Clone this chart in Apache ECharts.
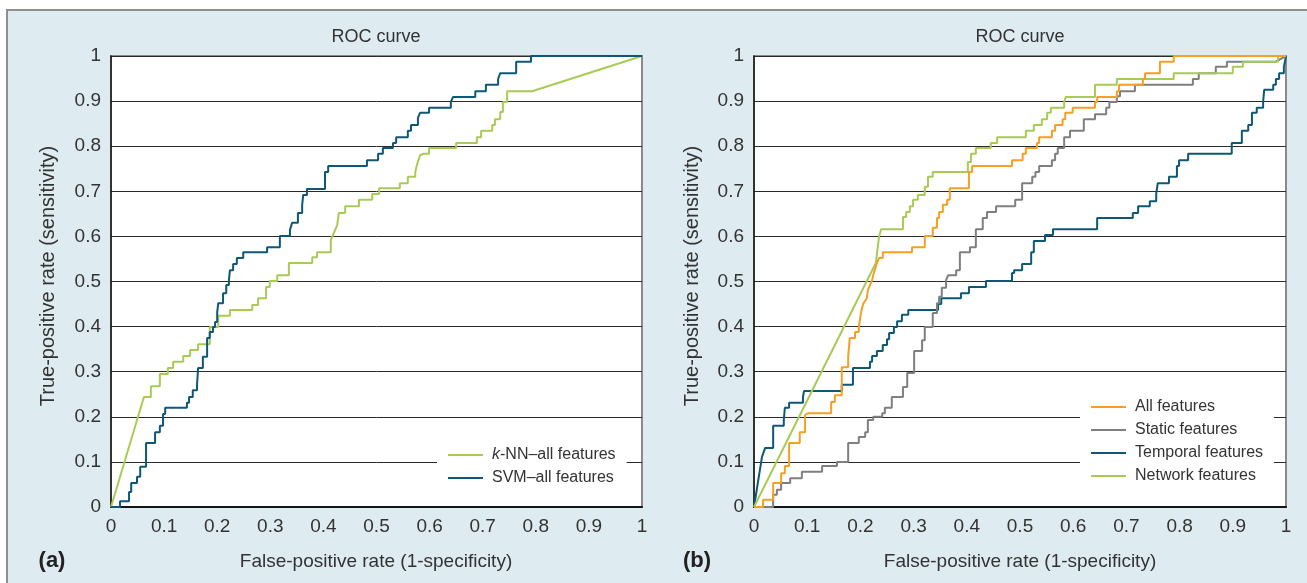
<!DOCTYPE html>
<html>
<head>
<meta charset="utf-8">
<script src="https://cdn.jsdelivr.net/npm/echarts@6/dist/echarts.min.js"></script>
<style>
  html, body { margin: 0; padding: 0; background: #fff; }
  #frame { position: absolute; left: 6px; top: 9px; right: 0; bottom: 0; background: #deebf1; border-top: 2px solid #8f8f8f; border-left: 2px solid #8f8f8f; }
  #chart { position: absolute; left: 0; top: 0; width: 1307px; height: 583px; }
</style>
</head>
<body>
<div id="frame"></div>
<div id="chart"></div>
<script>
// [false-positive rate, true-positive rate] pairs
const knnAll = [[0,0],[0.062,0.244],[0.075,0.244],[0.075,0.268],[0.092,0.268],[0.092,0.295],[0.107,0.295],[0.107,0.308],[0.117,0.308],[0.117,0.322],[0.136,0.322],[0.136,0.335],[0.149,0.335],[0.149,0.348],[0.164,0.348],[0.164,0.361],[0.186,0.361],[0.186,0.399],[0.202,0.399],[0.202,0.424],[0.224,0.424],[0.224,0.437],[0.266,0.437],[0.266,0.448],[0.277,0.448],[0.277,0.463],[0.292,0.463],[0.292,0.488],[0.299,0.488],[0.299,0.501],[0.313,0.501],[0.313,0.514],[0.335,0.514],[0.335,0.541],[0.379,0.541],[0.379,0.554],[0.388,0.554],[0.388,0.565],[0.414,0.565],[0.414,0.592],[0.426,0.625],[0.429,0.652],[0.441,0.652],[0.441,0.667],[0.467,0.667],[0.467,0.681],[0.492,0.681],[0.492,0.694],[0.505,0.694],[0.505,0.707],[0.544,0.707],[0.544,0.718],[0.559,0.718],[0.559,0.732],[0.573,0.732],[0.573,0.743],[0.576,0.758],[0.582,0.780],[0.588,0.783],[0.599,0.783],[0.599,0.796],[0.650,0.796],[0.650,0.807],[0.689,0.807],[0.689,0.820],[0.697,0.820],[0.697,0.834],[0.718,0.834],[0.718,0.847],[0.723,0.847],[0.723,0.860],[0.733,0.860],[0.733,0.876],[0.738,0.876],[0.738,0.898],[0.746,0.898],[0.746,0.922],[0.793,0.922],[1,1]]
const svmAll = [[0,0],[0.017,0],[0.017,0.013],[0.034,0.013],[0.034,0.033],[0.038,0.033],[0.038,0.053],[0.049,0.053],[0.049,0.067],[0.055,0.067],[0.055,0.089],[0.066,0.089],[0.066,0.142],[0.083,0.142],[0.083,0.166],[0.092,0.166],[0.092,0.180],[0.098,0.180],[0.098,0.206],[0.102,0.206],[0.102,0.220],[0.143,0.220],[0.143,0.231],[0.147,0.231],[0.147,0.244],[0.154,0.244],[0.154,0.259],[0.162,0.259],[0.162,0.271],[0.164,0.271],[0.164,0.308],[0.173,0.308],[0.173,0.333],[0.181,0.333],[0.181,0.375],[0.186,0.375],[0.186,0.388],[0.192,0.388],[0.192,0.399],[0.196,0.399],[0.196,0.410],[0.200,0.410],[0.200,0.432],[0.202,0.432],[0.202,0.452],[0.211,0.452],[0.211,0.474],[0.217,0.474],[0.217,0.492],[0.222,0.492],[0.222,0.503],[0.224,0.503],[0.224,0.525],[0.230,0.525],[0.230,0.539],[0.237,0.539],[0.237,0.552],[0.249,0.552],[0.249,0.565],[0.294,0.565],[0.294,0.576],[0.318,0.576],[0.318,0.601],[0.337,0.601],[0.337,0.614],[0.341,0.630],[0.352,0.630],[0.352,0.652],[0.360,0.652],[0.360,0.670],[0.362,0.692],[0.369,0.692],[0.369,0.705],[0.403,0.705],[0.403,0.743],[0.409,0.743],[0.409,0.756],[0.482,0.756],[0.482,0.769],[0.503,0.769],[0.503,0.783],[0.512,0.783],[0.512,0.796],[0.531,0.796],[0.531,0.807],[0.537,0.807],[0.537,0.820],[0.559,0.820],[0.559,0.834],[0.565,0.834],[0.565,0.847],[0.578,0.847],[0.578,0.863],[0.582,0.874],[0.599,0.874],[0.599,0.885],[0.640,0.885],[0.640,0.898],[0.644,0.909],[0.686,0.909],[0.686,0.922],[0.706,0.922],[0.706,0.936],[0.729,0.936],[0.729,0.949],[0.733,0.962],[0.763,0.962],[0.763,0.987],[0.791,0.987],[0.791,1],[1,1]]

const allFeat = [[0,0],[0.017,0],[0.017,0.016],[0.036,0.016],[0.036,0.053],[0.051,0.053],[0.051,0.075],[0.058,0.075],[0.058,0.091],[0.066,0.091],[0.066,0.142],[0.086,0.142],[0.086,0.166],[0.096,0.166],[0.096,0.204],[0.102,0.208],[0.145,0.208],[0.145,0.233],[0.152,0.233],[0.152,0.248],[0.165,0.248],[0.165,0.310],[0.177,0.310],[0.177,0.333],[0.180,0.333],[0.180,0.375],[0.190,0.375],[0.190,0.388],[0.197,0.388],[0.197,0.399],[0.201,0.430],[0.205,0.450],[0.212,0.463],[0.214,0.481],[0.222,0.503],[0.224,0.514],[0.231,0.541],[0.235,0.552],[0.242,0.552],[0.242,0.565],[0.297,0.565],[0.297,0.576],[0.321,0.576],[0.321,0.601],[0.336,0.601],[0.336,0.619],[0.344,0.619],[0.344,0.641],[0.348,0.641],[0.348,0.654],[0.355,0.654],[0.355,0.670],[0.363,0.670],[0.363,0.681],[0.368,0.681],[0.368,0.707],[0.404,0.707],[0.404,0.743],[0.410,0.743],[0.410,0.756],[0.485,0.756],[0.485,0.769],[0.505,0.769],[0.505,0.783],[0.511,0.783],[0.511,0.796],[0.532,0.796],[0.532,0.807],[0.536,0.807],[0.536,0.820],[0.560,0.820],[0.560,0.834],[0.566,0.834],[0.566,0.847],[0.580,0.847],[0.580,0.860],[0.585,0.860],[0.585,0.874],[0.599,0.874],[0.599,0.885],[0.641,0.885],[0.641,0.898],[0.645,0.898],[0.645,0.909],[0.682,0.909],[0.682,0.922],[0.686,0.922],[0.686,0.936],[0.731,0.936],[0.731,0.949],[0.735,0.949],[0.735,0.962],[0.763,0.962],[0.763,0.987],[0.789,0.987],[0.789,1],[1,1]]
const staticFeat = [[0,0],[0.036,0],[0.036,0.027],[0.043,0.027],[0.043,0.038],[0.051,0.038],[0.051,0.053],[0.068,0.053],[0.068,0.064],[0.090,0.064],[0.090,0.078],[0.128,0.078],[0.128,0.091],[0.156,0.091],[0.156,0.100],[0.177,0.100],[0.177,0.142],[0.197,0.142],[0.197,0.155],[0.209,0.155],[0.209,0.166],[0.214,0.166],[0.214,0.193],[0.224,0.193],[0.224,0.200],[0.241,0.200],[0.241,0.208],[0.246,0.208],[0.246,0.220],[0.259,0.220],[0.259,0.244],[0.280,0.244],[0.280,0.266],[0.288,0.266],[0.288,0.297],[0.301,0.297],[0.301,0.346],[0.316,0.346],[0.316,0.370],[0.321,0.370],[0.321,0.399],[0.336,0.399],[0.336,0.430],[0.344,0.430],[0.344,0.452],[0.348,0.452],[0.348,0.466],[0.353,0.466],[0.353,0.486],[0.361,0.486],[0.361,0.503],[0.365,0.514],[0.380,0.514],[0.380,0.525],[0.387,0.525],[0.387,0.565],[0.406,0.565],[0.406,0.576],[0.417,0.576],[0.417,0.616],[0.430,0.616],[0.430,0.641],[0.438,0.641],[0.438,0.654],[0.455,0.654],[0.455,0.667],[0.491,0.667],[0.491,0.681],[0.504,0.681],[0.504,0.718],[0.523,0.718],[0.523,0.732],[0.529,0.732],[0.529,0.743],[0.536,0.743],[0.536,0.756],[0.560,0.756],[0.560,0.769],[0.566,0.769],[0.566,0.783],[0.571,0.783],[0.571,0.796],[0.583,0.796],[0.583,0.820],[0.594,0.820],[0.594,0.834],[0.620,0.834],[0.620,0.860],[0.641,0.860],[0.641,0.871],[0.662,0.871],[0.662,0.885],[0.668,0.885],[0.668,0.898],[0.682,0.898],[0.682,0.911],[0.688,0.911],[0.688,0.922],[0.716,0.922],[0.716,0.936],[0.825,0.936],[0.825,0.949],[0.836,0.949],[0.836,0.962],[0.868,0.962],[0.868,0.976],[0.889,0.976],[0.889,0.987],[0.980,0.987],[1,1]]
const temporalFeat = [[0,0],[0.015,0.111],[0.021,0.131],[0.036,0.131],[0.036,0.180],[0.056,0.180],[0.056,0.193],[0.058,0.193],[0.058,0.220],[0.066,0.220],[0.066,0.231],[0.092,0.231],[0.092,0.244],[0.094,0.244],[0.094,0.257],[0.165,0.257],[0.165,0.271],[0.186,0.271],[0.186,0.308],[0.218,0.308],[0.218,0.322],[0.222,0.322],[0.222,0.335],[0.231,0.335],[0.231,0.346],[0.242,0.346],[0.242,0.359],[0.250,0.359],[0.250,0.372],[0.254,0.372],[0.254,0.386],[0.263,0.386],[0.263,0.399],[0.269,0.399],[0.269,0.412],[0.278,0.412],[0.278,0.426],[0.290,0.426],[0.290,0.437],[0.346,0.437],[0.346,0.450],[0.352,0.450],[0.352,0.463],[0.389,0.463],[0.389,0.474],[0.404,0.474],[0.404,0.488],[0.436,0.488],[0.436,0.501],[0.485,0.501],[0.485,0.519],[0.489,0.519],[0.489,0.525],[0.504,0.525],[0.504,0.539],[0.521,0.539],[0.521,0.565],[0.526,0.565],[0.526,0.590],[0.547,0.590],[0.547,0.603],[0.562,0.603],[0.562,0.616],[0.645,0.616],[0.645,0.641],[0.712,0.641],[0.712,0.652],[0.722,0.652],[0.722,0.667],[0.744,0.667],[0.744,0.678],[0.756,0.678],[0.756,0.694],[0.759,0.694],[0.759,0.718],[0.780,0.718],[0.780,0.732],[0.795,0.732],[0.795,0.756],[0.799,0.756],[0.799,0.769],[0.816,0.769],[0.816,0.783],[0.898,0.783],[0.898,0.807],[0.917,0.807],[0.917,0.834],[0.929,0.834],[0.929,0.847],[0.936,0.847],[0.936,0.874],[0.945,0.874],[0.945,0.885],[0.957,0.885],[0.957,0.898],[0.959,0.898],[0.959,0.925],[0.976,0.925],[0.976,0.936],[0.981,0.936],[0.981,0.949],[0.987,0.949],[0.987,0.962],[0.996,0.962],[0.996,0.976],[1,1]]
const networkFeat = [[0,0],[0.229,0.541],[0.235,0.599],[0.239,0.616],[0.280,0.616],[0.280,0.643],[0.286,0.643],[0.286,0.654],[0.293,0.654],[0.293,0.667],[0.299,0.667],[0.299,0.681],[0.308,0.681],[0.308,0.692],[0.321,0.692],[0.321,0.710],[0.327,0.710],[0.327,0.732],[0.336,0.732],[0.336,0.743],[0.402,0.743],[0.402,0.765],[0.408,0.765],[0.408,0.783],[0.417,0.783],[0.417,0.796],[0.445,0.796],[0.445,0.807],[0.457,0.807],[0.457,0.820],[0.511,0.820],[0.511,0.834],[0.526,0.834],[0.526,0.847],[0.541,0.847],[0.541,0.860],[0.551,0.860],[0.551,0.874],[0.558,0.874],[0.558,0.885],[0.583,0.885],[0.583,0.898],[0.586,0.898],[0.586,0.909],[0.641,0.909],[0.641,0.936],[0.682,0.936],[0.682,0.949],[0.789,0.949],[0.789,0.962],[0.900,0.962],[0.900,0.976],[0.919,0.976],[0.919,0.987],[0.985,0.987],[0.985,1],[1,1]]

const panelTitle = 'ROC curve'
const xName = 'False-positive rate (1-specificity)'
const yName = 'True-positive rate (sensitivity)'

const GREEN = '#a9cb55'
const TEAL = '#0d5877'
const ORANGE = '#f5a023'
const GREY = '#7f7f80'
const FONT = '"Liberation Sans", Arial, sans-serif'

const fmt = v => String(+v.toFixed(1))

const gridBase = { top: 56, height: 451, show: true, backgroundColor: '#fff', borderColor: '#8a8a8a', borderWidth: 2 }

const xAxisFor = i => ({
  type: 'value', gridIndex: i, min: 0, max: 1, interval: 0.1,
  axisLine: { show: true, onZero: false, lineStyle: { color: '#151515', width: 2 } },
  axisTick: { show: false },
  splitLine: { show: false },
  axisLabel: { formatter: fmt, margin: 10, color: '#333', fontFamily: FONT, fontSize: 19 }
})
const yAxisFor = i => ({
  type: 'value', gridIndex: i, min: 0, max: 1, interval: 0.1,
  axisLine: { show: true, onZero: false, lineStyle: { color: '#151515', width: 1.5 } },
  axisTick: { show: false },
  splitLine: { show: true, lineStyle: { color: '#2b2b2b', width: 1 } },
  axisLabel: { formatter: fmt, margin: 10, color: '#333', fontFamily: FONT, fontSize: 19 }
})

const line = (name, data, color, idx) => ({
  name, type: 'line', data, xAxisIndex: idx, yAxisIndex: idx,
  symbol: 'none', showSymbol: false, color,
  lineStyle: { color, width: 2 }, z: 3
})

const legendBase = {
  orient: 'vertical', icon: 'rect', itemWidth: 35, itemHeight: 2, itemGap: 5,
  backgroundColor: '#fff', padding: [3, 11, 3, 11],
  textStyle: { fontFamily: FONT, fontSize: 16, color: '#333', lineHeight: 18, padding: [0, 0, 0, 4],
    rich: { i: { fontStyle: 'italic', fontFamily: FONT, fontSize: 16, color: '#333', lineHeight: 18 } } }
}

const txt = (text, x, y, extra) => ({
  type: 'text', x, y, z: 10,
  style: Object.assign({ text, fill: '#333', font: '19px ' + FONT, textAlign: 'center', textVerticalAlign: 'middle' }, extra || {})
})

const chart = echarts.init(document.getElementById('chart'), null, { renderer: 'canvas' })
chart.setOption({
  animation: false,
  backgroundColor: 'transparent',
  grid: [
    Object.assign({ left: 111, width: 531 }, gridBase),
    Object.assign({ left: 754, width: 532 }, gridBase)
  ],
  xAxis: [xAxisFor(0), xAxisFor(1)],
  yAxis: [yAxisFor(0), yAxisFor(1)],
  legend: [
    Object.assign({ left: 437, top: 443, data: ['k-NN–all features', 'SVM–all features'],
      formatter: n => n === 'k-NN–all features' ? '{i|k}-NN–all features' : n }, legendBase),
    Object.assign({ left: 1080, top: 395, itemGap: 6, data: ['All features', 'Static features', 'Temporal features', 'Network features'] }, legendBase)
  ],
  graphic: [
    txt(panelTitle, 376, 37, { font: '18px ' + FONT }),
    txt(panelTitle, 1020, 37, { font: '18px ' + FONT }),
    txt(xName, 376, 562),
    txt(xName, 1020, 562),
    Object.assign(txt(yName, 48, 276, { font: '20px ' + FONT }), { rotation: Math.PI / 2 }),
    Object.assign(txt(yName, 692, 276, { font: '20px ' + FONT }), { rotation: Math.PI / 2 }),
    txt('(a)', 52, 561, { font: 'bold 22px ' + FONT, fill: '#222' }),
    txt('(b)', 697, 561, { font: 'bold 22px ' + FONT, fill: '#222' })
  ],
  series: [
    line('k-NN–all features', knnAll, GREEN, 0),
    line('SVM–all features', svmAll, TEAL, 0),
    line('Temporal features', temporalFeat, TEAL, 1),
    line('Static features', staticFeat, GREY, 1),
    line('Network features', networkFeat, GREEN, 1),
    line('All features', allFeat, ORANGE, 1)
  ]
})
</script>
</body>
</html>
